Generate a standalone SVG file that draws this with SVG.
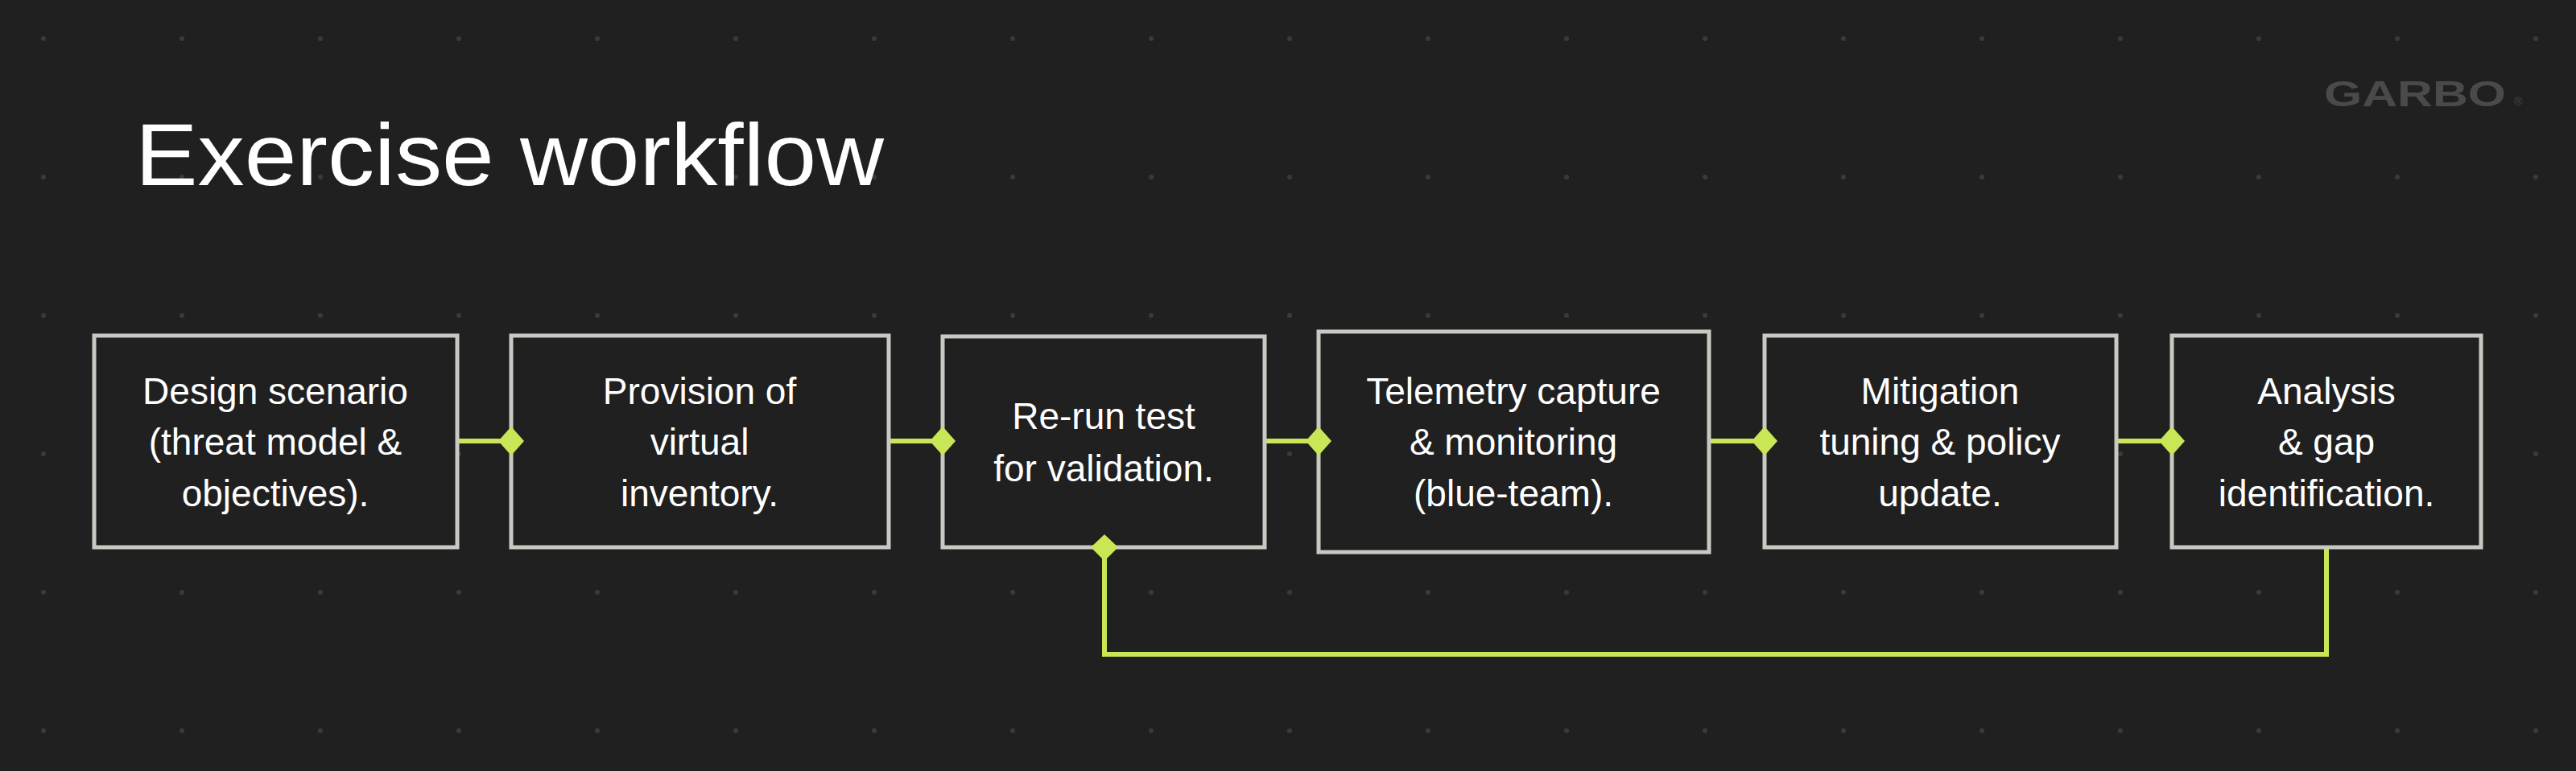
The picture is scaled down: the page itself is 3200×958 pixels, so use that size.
<svg xmlns="http://www.w3.org/2000/svg" width="3200" height="958" viewBox="0 0 3200 958">
<defs>
<pattern id="dots" x="54" y="48" width="172" height="172" patternUnits="userSpaceOnUse"><circle cx="0" cy="0" r="3" fill="#3a3a3a"/><circle cx="172" cy="0" r="3" fill="#3a3a3a"/><circle cx="0" cy="172" r="3" fill="#3a3a3a"/><circle cx="172" cy="172" r="3" fill="#3a3a3a"/></pattern>
<style>
.box{fill:#202020;stroke:#c9c9c4;stroke-width:5}
.t{font-family:"Liberation Sans",Arial,sans-serif;font-size:46px;fill:#ffffff;text-anchor:middle}
.ln{fill:none;stroke:#c8e655;stroke-width:6}
.dm{fill:#c8e655}
</style>
</defs>
<rect width="3200" height="958" fill="#202020"/>
<rect width="3200" height="958" fill="url(#dots)"/>
<text x="168" y="230" font-family="'Liberation Sans',Arial,sans-serif" font-size="110" fill="#ffffff" textLength="930" lengthAdjust="spacingAndGlyphs">Exercise workflow</text>
<text x="2887" y="132" font-family="'Liberation Sans',Arial,sans-serif" font-weight="bold" font-size="44" fill="#4a4a4a" textLength="226" lengthAdjust="spacingAndGlyphs">GARBO</text>
<text x="3123" y="131" font-family="'Liberation Sans',Arial,sans-serif" font-size="14" fill="#4a4a4a">®</text>
<g id="connectors">
<line class="ln" x1="568" y1="548" x2="635" y2="548"/>
<line class="ln" x1="1104" y1="548" x2="1171" y2="548"/>
<line class="ln" x1="1571" y1="548" x2="1638" y2="548"/>
<line class="ln" x1="2123" y1="548" x2="2192" y2="548"/>
<line class="ln" x1="2629" y1="548" x2="2698" y2="548"/>
<polyline class="ln" points="2890,680 2890,813 1372,813 1372,680"/>
</g>
<g id="n1"><rect class="box" x="117" y="417" width="451" height="263"/><text class="t" x="342" y="502">Design scenario</text><text class="t" x="342" y="565">(threat model &amp;</text><text class="t" x="342" y="629">objectives).</text></g>
<g id="n2"><rect class="box" x="635" y="417" width="469" height="263"/><text class="t" x="869" y="502">Provision of</text><text class="t" x="869" y="565">virtual</text><text class="t" x="869" y="629">inventory.</text></g>
<g id="n3"><rect class="box" x="1171" y="418" width="400" height="262"/><text class="t" x="1371" y="533">Re-run test</text><text class="t" x="1371" y="598">for validation.</text></g>
<g id="n4"><rect class="box" x="1638" y="412" width="485" height="274"/><text class="t" x="1880" y="502">Telemetry capture</text><text class="t" x="1880" y="565">&amp; monitoring</text><text class="t" x="1880" y="629">(blue-team).</text></g>
<g id="n5"><rect class="box" x="2192" y="417" width="437" height="263"/><text class="t" x="2410" y="502">Mitigation</text><text class="t" x="2410" y="565">tuning &amp; policy</text><text class="t" x="2410" y="629">update.</text></g>
<g id="n6"><rect class="box" x="2698" y="417" width="384" height="263"/><text class="t" x="2890" y="502">Analysis</text><text class="t" x="2890" y="565">&amp; gap</text><text class="t" x="2890" y="629">identification.</text></g>
<g id="diamonds">
<polygon class="dm" points="635,530 651,548 635,566 619,548"/>
<polygon class="dm" points="1171,530 1187,548 1171,566 1155,548"/>
<polygon class="dm" points="1638,530 1654,548 1638,566 1622,548"/>
<polygon class="dm" points="2192,530 2208,548 2192,566 2176,548"/>
<polygon class="dm" points="2698,530 2714,548 2698,566 2682,548"/>
<polygon class="dm" points="1372,664 1389,680 1372,697 1355,680"/>
</g>
</svg>
